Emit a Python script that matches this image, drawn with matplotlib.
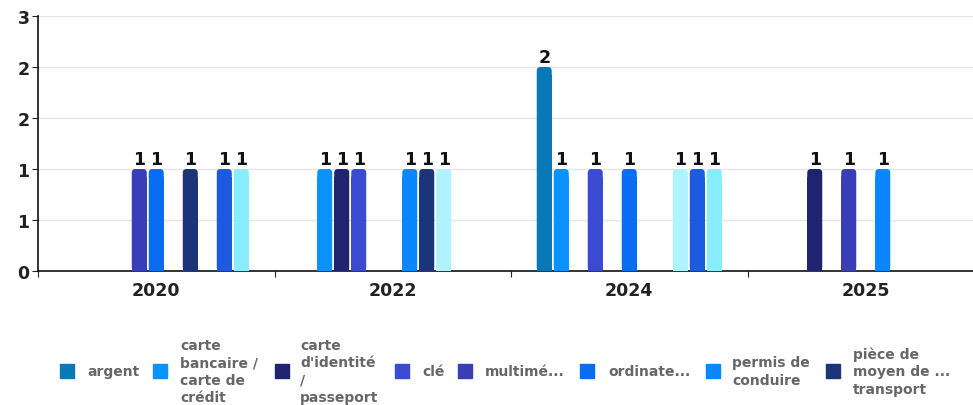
import matplotlib.pyplot as plt
import numpy as np
from matplotlib.patches import Rectangle, FancyBboxPatch
from matplotlib.ticker import FuncFormatter

years = ['2020', '2022', '2024', '2025']

series_names = ['argent', 'carte\nbancaire /\ncarte de\ncrédit', "carte\nd'identité\n/\npasseport",
                'clé', 'multimé...', 'ordinate...', 'permis de\nconduire',
                'pièce de\nmoyen de ...\ntransport', 'autre 1', 'autre 2', 'autre 3']
series_colors = ['#0a78b6', '#0a92ff', '#1e2470', '#3a4bd2', '#3a3db8', '#0a6cf0',
                 '#0a86ff', '#1c3478', '#b0f2ff', '#1e5ae0', '#88eeff']

argent = [0, 0, 2, 0]
carte_bancaire = [0, 1, 1, 0]
carte_identite = [0, 1, 0, 1]
cle = [0, 1, 1, 0]
multimedia = [1, 0, 0, 1]
ordinateur = [1, 0, 1, 0]
permis = [0, 1, 0, 1]
piece_transport = [1, 1, 0, 0]
autre1 = [0, 1, 1, 0]
autre2 = [1, 0, 1, 0]
autre3 = [1, 0, 1, 0]

values = [argent, carte_bancaire, carte_identite, cle, multimedia, ordinateur,
          permis, piece_transport, autre1, autre2, autre3]

# legend shows only the first 8 series
legend_count = 8
legend_mark_x = [67, 160, 282, 402, 465, 587, 713, 833]
legend_text_x = [87, 180, 300, 422, 485, 608, 732, 853]

W, H = 973, 406
fig = plt.figure(figsize=(W/100, H/100), dpi=100)
ax = fig.add_axes([38/W, (H-272)/H, 946/W, 255/H])

n = len(values)
slot = 0.0719
bw = 0.0634
aspect = (946/4) / (255/2.5)   # px per x unit / px per y unit
rs = 0.016
x = np.arange(len(years))
for i, (vals, col) in enumerate(zip(values, series_colors)):
    pos = x + (i - (n-1)/2) * slot
    for p, v in zip(pos, vals):
        if v == 0:
            continue
        # square lower part + rounded top
        ax.bar(p, v - 0.08, width=bw, color=col, linewidth=0, zorder=3)
        ax.add_patch(FancyBboxPatch((p - bw/2, 0), bw, v,
                                    boxstyle='round,pad=0,rounding_size=%f' % rs,
                                    mutation_aspect=aspect, color=col, lw=0, zorder=3))
        ax.text(p, v + 0.005, str(v), ha='center', va='bottom', fontsize=12.5,
                fontweight='bold', color='#111111', zorder=4)

ax.set_xlim(-0.5, 3.5)
ax.set_ylim(0, 2.5)
ax.set_yticks(np.arange(0, 2.51, 0.5))
ax.yaxis.set_major_formatter(FuncFormatter(lambda v, p: str(int(np.floor(v + 0.5)))))
ax.grid(axis='y', color='#e6e6e6', lw=1, zorder=0)
ax.set_axisbelow(True)

ax.set_xticks(np.arange(-0.5, 3.6, 1))
ax.set_xticklabels([])
ax.set_xticks(x, minor=True)
ax.set_xticklabels(years, minor=True)
ax.tick_params(axis='x', which='major', length=4, color='#222222')
ax.tick_params(axis='x', which='minor', length=0, pad=7)
ax.tick_params(axis='y', length=4, pad=2, color='#222222')
for lab in ax.get_xticklabels(minor=True) + ax.get_yticklabels():
    lab.set_fontweight('bold')
    lab.set_fontsize(12.5)
    lab.set_color('#222222')

for s in ['top', 'right']:
    ax.spines[s].set_visible(False)
for s in ['left', 'bottom']:
    ax.spines[s].set_color('#111111')
    ax.spines[s].set_linewidth(1.2)

# legend
ly = 372
for i in range(legend_count):
    mx = legend_mark_x[i]
    fig.patches.append(Rectangle(((mx - 7)/W, (H - ly - 7)/H), 14/W, 14/H,
                                 transform=fig.transFigure, color=series_colors[i]))
    fig.text(legend_text_x[i]/W, (H - ly)/H, series_names[i], ha='left', va='center',
             fontsize=10, fontweight='bold', color='#666666', linespacing=1.32)

fig.savefig('out.png', dpi=100)
